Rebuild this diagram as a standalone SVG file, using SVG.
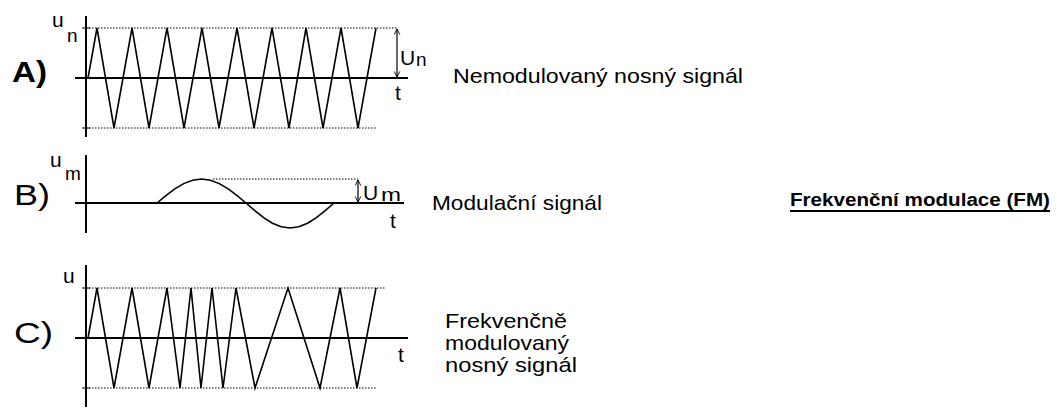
<svg xmlns="http://www.w3.org/2000/svg" width="1057" height="409" viewBox="0 0 1057 409">
<style>
.bg{fill:#fff}
.axis{stroke:#000;stroke-width:2;fill:none}
.wave{stroke:#000;stroke-width:1.6;fill:none;stroke-linejoin:miter}
.dot{stroke:#000;stroke-width:1;stroke-dasharray:1.5 1.5;fill:none}
.tick{stroke:#000;stroke-width:1;fill:none}
.arr{stroke:#000;stroke-width:1.2;fill:none}
text{font-family:"Liberation Sans",Arial,sans-serif;fill:#000}
.lab{font-size:21px}
.sub{font-size:19px}
.big{font-size:30px}
.txt{font-size:21px}
.title{font-size:18px;font-weight:bold}
</style>
<defs>
<marker id="ah" viewBox="0 0 10 10" refX="9" refY="5" markerWidth="7" markerHeight="7" orient="auto-start-reverse" markerUnits="userSpaceOnUse">
<path d="M1,1 L9,5 L1,9" fill="none" stroke="#000" stroke-width="1.3"/>
</marker>
</defs>
<rect class="bg" x="0" y="0" width="1057" height="409"/>

<g id="panelA">
<line class="axis" x1="86" y1="16" x2="86" y2="137"/>
<line class="axis" x1="75" y1="78" x2="408" y2="78"/>
<line class="dot" x1="86" y1="28" x2="397" y2="28"/>
<line class="dot" x1="86" y1="128" x2="377" y2="128"/>
<line class="tick" x1="82" y1="28" x2="90" y2="28"/>
<line class="tick" x1="82" y1="128" x2="90" y2="128"/>
<polyline class="wave" points="88,78 97,28 114,128 132,28 149,128 167,28 184,128 202,28 219,128 237,28 254,128 272,28 289,128 306,28 323,128 341,28 358,128 376,28"/>
<text class="big" x="12" y="82" font-weight="bold" textLength="35" lengthAdjust="spacingAndGlyphs">A)</text>
<text class="lab" x="52" y="27" font-size="18">u</text>
<text class="sub" x="67" y="42">n</text>
<text class="lab" x="400" y="65">U</text>
<text class="sub" x="416" y="66">n</text>
<text class="lab" x="395" y="100">t</text>
<text class="txt" x="453" y="83" textLength="290" lengthAdjust="spacingAndGlyphs">Nemodulovaný nosný signál</text>
</g>

<g id="panelB">
<line class="axis" x1="86" y1="155" x2="86" y2="233"/>
<line class="axis" x1="75" y1="203" x2="404" y2="203"/>
<line class="dot" x1="213" y1="179" x2="358" y2="179"/>
<polyline class="wave" points="157,203 165.9,195.6 174.8,188.9 183.7,183.6 192.6,180.2 201.5,179 210.4,180.2 219.3,183.6 228.2,188.9 237.1,195.6 246,203 254.8,210.7 263.6,217.7 272.4,223.2 281.2,226.8 290,228 298.8,226.8 307.6,223.2 316.4,217.7 325.2,210.7 334,203"/>
<text class="big" x="14" y="205" textLength="36" lengthAdjust="spacingAndGlyphs">B)</text>
<text class="lab" x="50" y="167" font-size="18">u</text>
<text class="sub" x="65" y="180">m</text>
<text class="lab" x="363" y="200">U</text>
<text class="sub" x="381" y="201" textLength="20" lengthAdjust="spacingAndGlyphs">m</text>
<text class="lab" x="390" y="228">t</text>
<text class="txt" x="432" y="210" textLength="170" lengthAdjust="spacingAndGlyphs">Modulační signál</text>
</g>

<g id="panelC">
<line class="axis" x1="86" y1="265" x2="86" y2="407"/>
<line class="axis" x1="75" y1="338" x2="408" y2="338"/>
<line class="dot" x1="86" y1="288" x2="385" y2="288"/>
<line class="dot" x1="86" y1="388" x2="377" y2="388"/>
<line class="tick" x1="82" y1="288" x2="90" y2="288"/>
<line class="tick" x1="82" y1="388" x2="90" y2="388"/>
<polyline class="wave" points="88,338 97,288 114,388 132,288 149,388 167,288 180,388 191,288 201,388 212,288 223,388 236,288 255,388 288,288 320,388 340,288 357,388 376,288"/>
<text class="big" x="14" y="343" font-size="28" textLength="39" lengthAdjust="spacingAndGlyphs">C)</text>
<text class="lab" x="63" y="283" font-size="20">u</text>
<text class="lab" x="398" y="362">t</text>
<text class="txt" x="445" y="328" textLength="122" lengthAdjust="spacingAndGlyphs">Frekvenčně</text>
<text class="txt" x="445" y="350" textLength="124" lengthAdjust="spacingAndGlyphs">modulovaný</text>
<text class="txt" x="445" y="372" textLength="132" lengthAdjust="spacingAndGlyphs">nosný signál</text>
</g>

<g id="title">
<text class="title" x="790" y="206" textLength="260" lengthAdjust="spacingAndGlyphs">Frekvenční modulace (FM)</text>
<line x1="790" y1="211" x2="1050" y2="211" stroke="#000" stroke-width="2"/>
</g>

<g id="connectors">
<line class="arr" x1="397" y1="29" x2="397" y2="77" marker-start="url(#ah)" marker-end="url(#ah)"/>
<line class="arr" x1="358" y1="180" x2="358" y2="202" marker-start="url(#ah)" marker-end="url(#ah)"/>
</g>
</svg>
